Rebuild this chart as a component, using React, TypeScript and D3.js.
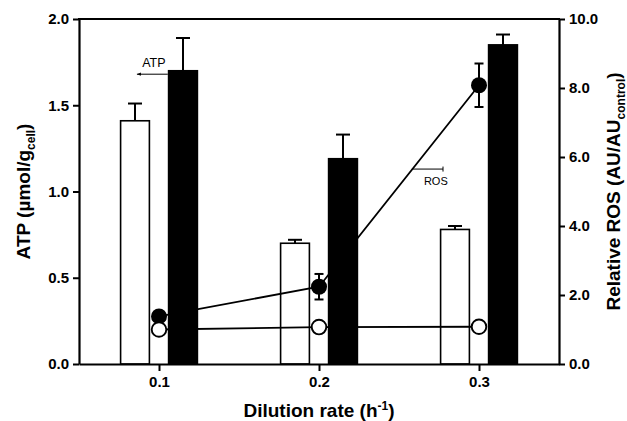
import React from "react";
import * as d3 from "d3";

// dilution rate (h-1)
const dilution = [0.1, 0.2, 0.3];
// ATP, left axis (umol/g cell)
const atpOpen = [1.41, 0.7, 0.78];
const atpOpenErr = [0.1, 0.02, 0.02];
const atpFilled = [1.7, 1.19, 1.85];
const atpFilledErr = [0.19, 0.14, 0.06];
// relative ROS, right axis
const rosOpen = [1.0, 1.07, 1.08];
const rosFilled = [1.38, 2.24, 8.08];
const rosFilledErr = [0.1, 0.37, 0.63];

const xTicks = [0.1, 0.2, 0.3];
const leftTicks = [0, 0.5, 1.0, 1.5, 2.0];
const rightTicks = [0, 2, 4, 6, 8, 10];

const FONT = "'Liberation Sans', Arial, sans-serif";

const useD3 = (renderFn: (svg: any) => void, deps: any[]) => {
  const ref = React.useRef<SVGSVGElement>(null);
  React.useEffect(() => {
    renderFn(d3.select(ref.current));
  }, deps);
  return ref;
};

export default function App() {
  const width = 627;
  const height = 421;
  const margin = { top: 19, right: 68, bottom: 57, left: 79 };

  const ref = useD3((svg) => {
    svg.selectAll("*").remove();

    const x = d3
      .scaleLinear()
      .domain([0.05, 0.35])
      .range([margin.left, width - margin.right]);
    const yL = d3
      .scaleLinear()
      .domain([0, 2])
      .range([height - margin.bottom, margin.top]);
    const yR = d3
      .scaleLinear()
      .domain([0, 10])
      .range([height - margin.bottom, margin.top]);

    const offset = 0.015;
    const bw = x(0.118) - x(0.1);
    const rows = dilution.map((d, i) => ({ d, i }));

    // open bars (drawn first, lines run across them)
    svg
      .append("g")
      .selectAll("rect")
      .data(rows)
      .join("rect")
      .attr("x", (r) => x(r.d - offset) - bw / 2)
      .attr("y", (r) => yL(atpOpen[r.i]))
      .attr("width", bw)
      .attr("height", (r) => yL(0) - yL(atpOpen[r.i]))
      .attr("fill", "white")
      .attr("stroke", "black")
      .attr("stroke-width", 1.6);

    // ROS lines
    const line = d3
      .line<number>()
      .x((d, i) => x(dilution[i]))
      .y((d) => yR(d));
    svg
      .append("path")
      .attr("d", line(rosFilled))
      .attr("fill", "none")
      .attr("stroke", "black")
      .attr("stroke-width", 1.8);
    svg
      .append("path")
      .attr("d", line(rosOpen))
      .attr("fill", "none")
      .attr("stroke", "black")
      .attr("stroke-width", 1.8);

    // filled bars
    svg
      .append("g")
      .selectAll("rect")
      .data(rows)
      .join("rect")
      .attr("x", (r) => x(r.d + offset) - bw / 2)
      .attr("y", (r) => yL(atpFilled[r.i]))
      .attr("width", bw)
      .attr("height", (r) => yL(0) - yL(atpFilled[r.i]))
      .attr("fill", "black")
      .attr("stroke", "black")
      .attr("stroke-width", 1.6);

    // bar error bars (upper only)
    const barErr = (vals: number[], errs: number[], dx: number) => {
      const g = svg.append("g").attr("stroke", "black").attr("stroke-width", 2);
      rows.forEach((r) => {
        const cx = x(r.d + dx);
        const top = yL(vals[r.i] + errs[r.i]);
        g.append("line")
          .attr("x1", cx)
          .attr("x2", cx)
          .attr("y1", yL(vals[r.i]))
          .attr("y2", top);
        g.append("line")
          .attr("x1", cx - 7)
          .attr("x2", cx + 7)
          .attr("y1", top)
          .attr("y2", top);
      });
    };
    barErr(atpOpen, atpOpenErr, -offset);
    barErr(atpFilled, atpFilledErr, offset);

    // ROS error bars
    const eg = svg.append("g").attr("stroke", "black").attr("stroke-width", 2);
    rows.forEach((r) => {
      const cx = x(r.d);
      const hi = yR(rosFilled[r.i] + rosFilledErr[r.i]);
      const lo = yR(rosFilled[r.i] - rosFilledErr[r.i]);
      eg.append("line").attr("x1", cx).attr("x2", cx).attr("y1", lo).attr("y2", hi);
      eg.append("line").attr("x1", cx - 4.5).attr("x2", cx + 4.5).attr("y1", lo).attr("y2", lo);
      eg.append("line").attr("x1", cx - 4.5).attr("x2", cx + 4.5).attr("y1", hi).attr("y2", hi);
    });

    // ROS markers
    svg
      .append("g")
      .selectAll("circle")
      .data(rows)
      .join("circle")
      .attr("cx", (r) => x(r.d))
      .attr("cy", (r) => yR(rosFilled[r.i]))
      .attr("r", 8)
      .attr("fill", "black");
    svg
      .append("g")
      .selectAll("circle")
      .data(rows)
      .join("circle")
      .attr("cx", (r) => x(r.d))
      .attr("cy", (r) => yR(rosOpen[r.i]))
      .attr("r", 7.3)
      .attr("fill", "white")
      .attr("stroke", "black")
      .attr("stroke-width", 1.9);

    // axes
    const fmt = d3.format(".1f");
    const styleAxis = (g: any) => {
      g.selectAll(".domain").attr("stroke-width", 2.2);
      g.selectAll(".tick line").attr("stroke-width", 2);
      g.selectAll(".tick text")
        .attr("font-family", FONT)
        .attr("font-weight", "bold")
        .attr("font-size", 15)
        .attr("fill", "black");
    };
    svg
      .append("g")
      .attr("transform", `translate(0,${yL(0)})`)
      .call(d3.axisBottom(x).tickValues(xTicks).tickFormat(fmt).tickSize(7).tickSizeOuter(0).tickPadding(5))
      .call(styleAxis);
    svg
      .append("g")
      .attr("transform", `translate(${x(0.05)},0)`)
      .call(d3.axisLeft(yL).tickValues(leftTicks).tickFormat(fmt).tickSize(6).tickSizeOuter(0).tickPadding(4))
      .call(styleAxis);
    svg
      .append("g")
      .attr("transform", `translate(${x(0.35)},0)`)
      .call(d3.axisRight(yR).tickValues(rightTicks).tickFormat(fmt).tickSize(6).tickSizeOuter(0).tickPadding(4))
      .call(styleAxis);
    svg
      .append("line")
      .attr("x1", x(0.05) - 1)
      .attr("x2", x(0.35) + 1)
      .attr("y1", yL(2))
      .attr("y2", yL(2))
      .attr("stroke", "black")
      .attr("stroke-width", 2.2);

    // annotations
    const ann = svg.append("g").attr("font-family", FONT).attr("fill", "black");
    ann
      .append("text")
      .attr("x", x(0.0968))
      .attr("y", yL(1.72))
      .attr("text-anchor", "middle")
      .attr("font-size", 12.5)
      .text("ATP");
    const ay = yL(1.68);
    ann
      .append("line")
      .attr("x1", x(0.0862))
      .attr("x2", x(0.1055))
      .attr("y1", ay)
      .attr("y2", ay)
      .attr("stroke", "black")
      .attr("stroke-width", 1);
    ann
      .append("path")
      .attr("d", `M${x(0.0862)},${ay} l4,-1.6 l0,3.2 z`)
      .attr("fill", "black");
    const ry = yR(5.65);
    ann
      .append("line")
      .attr("x1", x(0.258))
      .attr("x2", x(0.2775))
      .attr("y1", ry)
      .attr("y2", ry)
      .attr("stroke", "black")
      .attr("stroke-width", 1);
    ann
      .append("line")
      .attr("x1", x(0.2775))
      .attr("x2", x(0.2775))
      .attr("y1", ry - 2.5)
      .attr("y2", ry + 2.5)
      .attr("stroke", "black")
      .attr("stroke-width", 1);
    ann
      .append("text")
      .attr("x", x(0.273))
      .attr("y", yR(5.19))
      .attr("text-anchor", "middle")
      .attr("font-size", 11)
      .text("ROS");

    // titles
    const t = svg
      .append("g")
      .attr("font-family", FONT)
      .attr("font-weight", "bold")
      .attr("fill", "black");
    const bx = t
      .append("text")
      .attr("x", (x(0.05) + x(0.35)) / 2)
      .attr("y", 417)
      .attr("text-anchor", "middle")
      .attr("font-size", 19);
    bx.append("tspan").text("Dilution rate (h");
    bx.append("tspan").attr("dy", -7).attr("font-size", 12).text("-1");
    bx.append("tspan").attr("dy", 7).text(")");

    const cy = (yL(0) + yL(2)) / 2;
    const lt = t
      .append("text")
      .attr("transform", `translate(30,${cy}) rotate(-90)`)
      .attr("text-anchor", "middle")
      .attr("font-size", 19);
    lt.append("tspan").text("ATP (\u00b5mol/g");
    lt.append("tspan").attr("dy", 5).attr("font-size", 12).text("cell");
    lt.append("tspan").attr("dy", -5).text(")");

    const rt = t
      .append("text")
      .attr("transform", `translate(620,${cy}) rotate(-90)`)
      .attr("text-anchor", "middle")
      .attr("font-size", 19);
    rt.append("tspan").text("Relative ROS (AU/AU");
    rt.append("tspan").attr("dy", 5).attr("font-size", 12).text("control");
    rt.append("tspan").attr("dy", -5).text(")");
  }, []);

  return (
    <svg
      ref={ref}
      width={width}
      height={height}
      style={{ position: "absolute", left: 0, top: 0, background: "white" }}
    />
  );
}
